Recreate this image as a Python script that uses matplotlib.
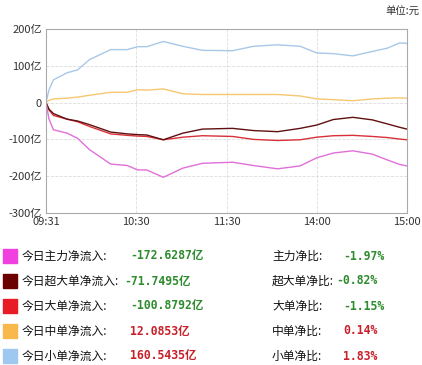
import numpy as np
import matplotlib.pyplot as plt
from matplotlib.patches import Rectangle

plt.rcParams['font.family'] = ['Noto Sans CJK SC', 'DejaVu Sans']

# minutes after 09:31 (240 trading minutes to 15:00)
t = [0, 2, 5, 14, 21, 29, 43, 54, 61, 67, 78, 91, 104, 124, 138, 154, 169, 180, 191, 204, 217, 227, 235, 240]

small = [0, 35, 62, 81, 89, 117, 144, 144, 152, 152, 166, 153, 142, 141, 153, 157, 153, 135, 133, 127, 139, 148, 162, 161]
medium = [0, 6, 10, 12, 15, 20, 28, 28, 35, 34, 37, 24, 22, 22, 22, 22, 18, 10, 8, 5, 10, 12, 13, 12]
main = [0, -45, -74, -83, -97, -128, -167, -171, -183, -183, -203, -178, -165, -162, -171, -180, -172, -150, -137, -131, -140, -156, -168, -172]
super_large = [0, -18, -30, -45, -50, -60, -80, -85, -87, -88, -101, -83, -72, -70, -76, -79, -70, -61, -46, -40, -47, -58, -67, -72]
large = [0, -20, -35, -45, -52, -65, -85, -89, -91, -92, -101, -94, -90, -92, -100, -103, -101, -94, -90, -89, -92, -95, -99, -101]

xtick_pos = [0, 60, 120, 180, 240]
xtick_labels = ['09:31', '10:30', '11:30', '14:00', '15:00']
ytick_pos = [200, 100, 0, -100, -200, -300]
ytick_labels = ['200亿', '100亿', '0', '-100亿', '-200亿', '-300亿']

legend_names = ['今日主力净流入:', '今日超大单净流入:', '今日大单净流入:', '今日中单净流入:', '今日小单净流入:']
legend_values = ['-172.6287亿', '-71.7495亿', '-100.8792亿', '12.0853亿', '160.5435亿']
ratio_names = ['主力净比:', '超大单净比:', '大单净比:', '中单净比:', '小单净比:']
ratio_values = ['-1.97%', '-0.82%', '-1.15%', '0.14%', '1.83%']
square_colors = ['#f040e0', '#6a0000', '#e81c24', '#f8b84c', '#9ec8f0']

W, H = 422, 365
fig = plt.figure(figsize=(W / 100, H / 100), dpi=100)
ax = fig.add_axes([46 / W, 1 - 213 / H, (407 - 46) / W, (213 - 29) / H])

ax.plot(t, small, color='#a8c8e8', lw=1.0)
ax.plot(t, medium, color='#f5c870', lw=1.0)
ax.plot(t, large, color='#d83038', lw=1.0)
ax.plot(t, super_large, color='#601010', lw=1.0)
ax.plot(t, main, color='#e070d8', lw=1.0)

ax.set_xlim(0, 240)
ax.set_ylim(-300, 200)
ax.set_xticks(xtick_pos)
ax.set_xticklabels(xtick_labels)
ax.set_yticks(ytick_pos)
ax.set_yticklabels(ytick_labels)
ax.tick_params(length=0, labelsize=8, colors='#333333', pad=3)
ax.grid(True, color='#dddddd', ls='--', lw=0.6)
for s in ax.spines.values():
    s.set_color('#aaaaaa')
    s.set_linewidth(0.8)

fig.text(385 / W, 1 - 12 / H, '单位:元', fontsize=7.5, color='#333333', va='center')

row_y = [256, 281, 306, 331, 356]
mono = ['DejaVu Sans Mono', 'Noto Sans CJK SC']
for i, y in enumerate(row_y):
    fy = 1 - y / H
    fig.patches.append(Rectangle((3 / W, fy - 7 / H), 14 / W, 14 / H,
                                 transform=fig.transFigure, color=square_colors[i]))
    fig.text(22 / W, fy, legend_names[i], fontsize=8.5, color='#111111', va='center')
    val_color = '#2e8b2e' if legend_values[i].startswith('-') else '#c8202a'
    vx = 130 if i != 1 else 124
    fig.text(vx / W, fy, legend_values[i], fontsize=8.3, color=val_color, va='center',
             fontweight='bold', family=mono)
    fig.text(272 / W, fy, ratio_names[i], fontsize=8.5, color='#111111', va='center')
    rx = 343 if i != 1 else 336
    fig.text(rx / W, fy, ratio_values[i], fontsize=8.3, color=val_color, va='center',
             fontweight='bold', family=mono)

fig.savefig('out.png', dpi=100)
